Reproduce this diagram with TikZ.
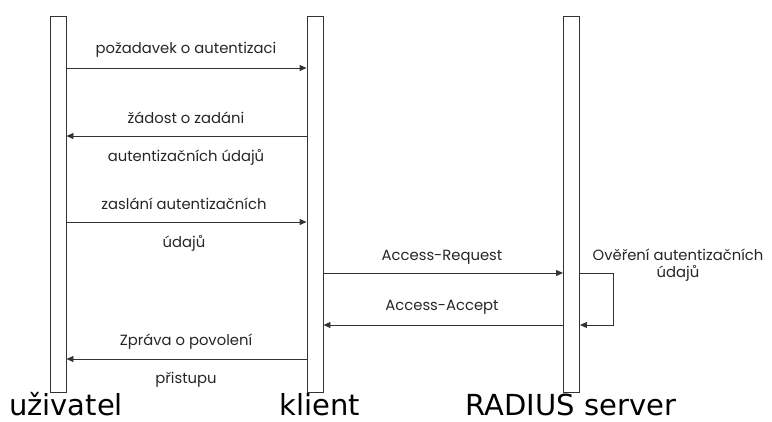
\documentclass[tikz,border=0pt]{standalone}
\usepackage{fontspec}
\setmainfont{Poppins}
\newfontfamily\bigfont{DejaVu Sans}
\usetikzlibrary{arrows.meta}
\begin{document}
\begin{tikzpicture}[x=1pt,y=-1pt,
  life/.style={draw=black!80,line width=0.9pt,fill=white,minimum width=16pt,minimum height=376pt,inner sep=0pt,anchor=north},
  msg/.style={draw=black!80,line width=0.9pt,-{Triangle[length=7pt,width=6pt]}},
  lbl/.style={font=\fontsize{14.8}{17}\selectfont,inner sep=0pt,text=black!85},
  big/.style={font=\bigfont\fontsize{29}{33}\selectfont,inner sep=0pt,anchor=base}]
\useasboundingbox (0,0) rectangle (772,421);
\node[life] (u) at (58,16) {};
\node[life] (k) at (315,16) {};
\node[life] (r) at (571.5,16) {};
\coordinate (m1) at (0,68);
\coordinate (m2) at (0,136);
\coordinate (m3) at (0,222);
\coordinate (m4) at (0,273);
\coordinate (m5) at (0,325);
\coordinate (m6) at (0,359);
\coordinate (lp) at (613,0);
\draw[msg] (u.east |- m1) -- (k.west |- m1);
\draw[msg] (k.west |- m2) -- (u.east |- m2);
\draw[msg] (u.east |- m3) -- (k.west |- m3);
\draw[msg] (k.east |- m4) -- (r.west |- m4);
\draw[msg] (r.east |- m4) -- (lp |- m4) -- (lp |- m5) -- (r.east |- m5);
\draw[msg] (r.west |- m5) -- (k.east |- m5);
\draw[msg] (k.west |- m6) -- (u.east |- m6);
\node[lbl] (t1) at (186,50) {požadavek o autentizaci};
\node[lbl] (t2a) at (186,118) {žádost o zadáni};
\node[lbl] (t2b) at (186,157) {autentizačních údajů};
\node[lbl] (t3a) at (184,204) {zaslání autentizačních};
\node[lbl] (t3b) at (184,243) {údajů};
\node[lbl] (t4) at (442,257) {Access-Request};
\node[lbl] (t5) at (442,307) {Access-Accept};
\node[lbl] (t6a) at (186,342) {Zpráva o povolení};
\node[lbl] (t6b) at (186,380) {přistupu};
\node[lbl,align=center] (t7) at (678,265) {Ověření autentizačních\\údajů};
\node[big] (bu) at (66,415) {uživatel};
\node[big] (bk) at (320,415) {klient};
\node[big] (br) at (571,415) {RADIUS server};
\end{tikzpicture}
\end{document}
